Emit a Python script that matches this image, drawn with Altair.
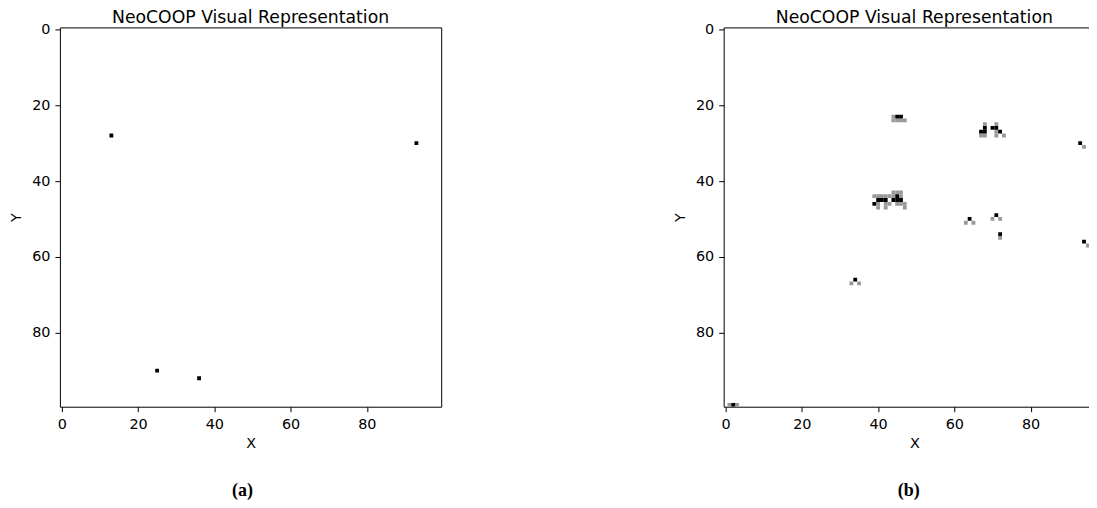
import altair as alt
import pandas as pd

# ---- data (grid cells) ----
A_black_x = [13, 93, 25, 36]
A_black_y = [28, 30, 90, 92]

B_black_x = [45, 46, 67, 68, 68, 70, 71, 72, 93, 45, 40, 41, 42, 44, 45, 46, 39, 64, 71, 72, 94, 34, 2]
B_black_y = [23, 23, 27, 26, 27, 26, 26, 27, 30, 44, 45, 45, 45, 45, 45, 45, 46, 50, 49, 54, 56, 66, 99]

B_gray_x = [44, 44, 45, 46, 47, 68, 67, 68, 71, 71, 71, 73, 94, 44, 45, 46,
            39, 40, 41, 42, 43, 44, 46, 40, 42, 43, 45, 46, 47, 40, 42, 47,
            63, 65, 70, 72, 72, 95, 33, 35, 1, 3]
B_gray_y = [23, 24, 24, 24, 24, 25, 28, 28, 25, 27, 28, 28, 31, 43, 43, 43,
            44, 44, 44, 44, 44, 44, 44, 46, 46, 46, 46, 46, 46, 47, 47, 47,
            51, 51, 50, 50, 55, 57, 67, 67, 99, 99]

TICKS = [0, 20, 40, 60, 80]
TITLE = "NeoCOOP Visual Representation"

FULL_W = 382      # plot width of a full 100-cell panel
B_W = 366         # right panel is cut off at the page edge
PX_PER_CELL = FULL_W / 100.0


def frame_df(xs, ys, level):
    return pd.DataFrame({"col": xs, "row": ys, "level": level})


df_a = frame_df(A_black_x, A_black_y, "agent")
df_b = pd.concat([frame_df(B_gray_x, B_gray_y, "trail"),
                  frame_df(B_black_x, B_black_y, "agent")], ignore_index=True)

color_scale = alt.Scale(domain=["agent", "trail"], range=["#000000", "#999999"])


def panel(df, width, right_frame):
    xmax = -0.5 + width / PX_PER_CELL
    xs = alt.Scale(domain=[-0.5, xmax], nice=False, zero=False)
    ys = alt.Scale(domain=[-0.5, 99.5], nice=False, zero=False, reverse=True)
    base = alt.Chart(df).transform_calculate(
        x0="datum.col - 0.5", x1="datum.col + 0.5",
        y0="datum.row - 0.5", y1="datum.row + 0.5",
    )
    cells = base.mark_rect(clip=True).encode(
        x=alt.X("x0:Q", scale=xs,
                axis=alt.Axis(values=TICKS, title="X", orient="bottom", format="d",
                              labelPadding=6, titlePadding=5, titleX=FULL_W / 2)),
        x2="x1:Q",
        y=alt.Y("y0:Q", scale=ys,
                axis=alt.Axis(values=TICKS, title="Y", orient="left", format="d",
                              labelPadding=5, titlePadding=8)),
        y2="y1:Q",
        color=alt.Color("level:N", scale=color_scale, legend=None),
    )
    frame_x = alt.X("x0:Q", scale=xs,
                    axis=alt.Axis(orient="top", labels=False, ticks=False, title=None,
                                  domain=True, grid=False, minExtent=0, maxExtent=0))
    if right_frame:
        frame_y = alt.Y("y0:Q", scale=ys,
                        axis=alt.Axis(orient="right", labels=False, ticks=False, title=None,
                                      domain=True, grid=False, minExtent=0, maxExtent=0))
    else:
        frame_y = alt.Y("y0:Q", scale=ys, axis=None)
    frame = base.mark_rect(opacity=0, clip=True).encode(x=frame_x, x2="x1:Q", y=frame_y, y2="y1:Q")
    return alt.layer(cells, frame).resolve_axis(x="independent", y="independent").properties(
        width=width, height=380,
        title=alt.TitleParams(TITLE, fontSize=17.3, font="DejaVu Sans", fontWeight="normal",
                              color="black", anchor="middle", frame="group", offset=-5,
                              dx=(FULL_W - width) / 2),
    )


pa = panel(df_a, FULL_W, True)
pb = panel(df_b, B_W, False)


def caption(text, dx):
    return alt.TitleParams(text, orient="bottom", anchor="middle", frame="bounds",
                           font="Liberation Serif", fontSize=18, fontWeight="bold",
                           color="black", offset=33, dx=dx)


cap_a = alt.vconcat(pa, title=caption("(a)", 17.5))
cap_b = alt.vconcat(pb, title=caption("(b)", 28))

chart = alt.hconcat(cap_a, cap_b, spacing=231).properties(
    padding={"left": 0, "top": 0, "right": 0, "bottom": 0}
).configure(font="DejaVu Sans").configure_view(stroke=None).configure_axis(
    domainColor="black", domainWidth=1, tickColor="black", tickWidth=1, tickSize=5,
    labelFontSize=14.4, labelColor="black", labelFont="DejaVu Sans",
    titleFontSize=14.4, titleFontWeight="normal", titleColor="black", titleFont="DejaVu Sans",
    grid=False,
).configure_axisY(minExtent=0).configure_axisX(minExtent=0)

chart.save("out.html", embed_options={"renderer": "svg", "actions": False})
